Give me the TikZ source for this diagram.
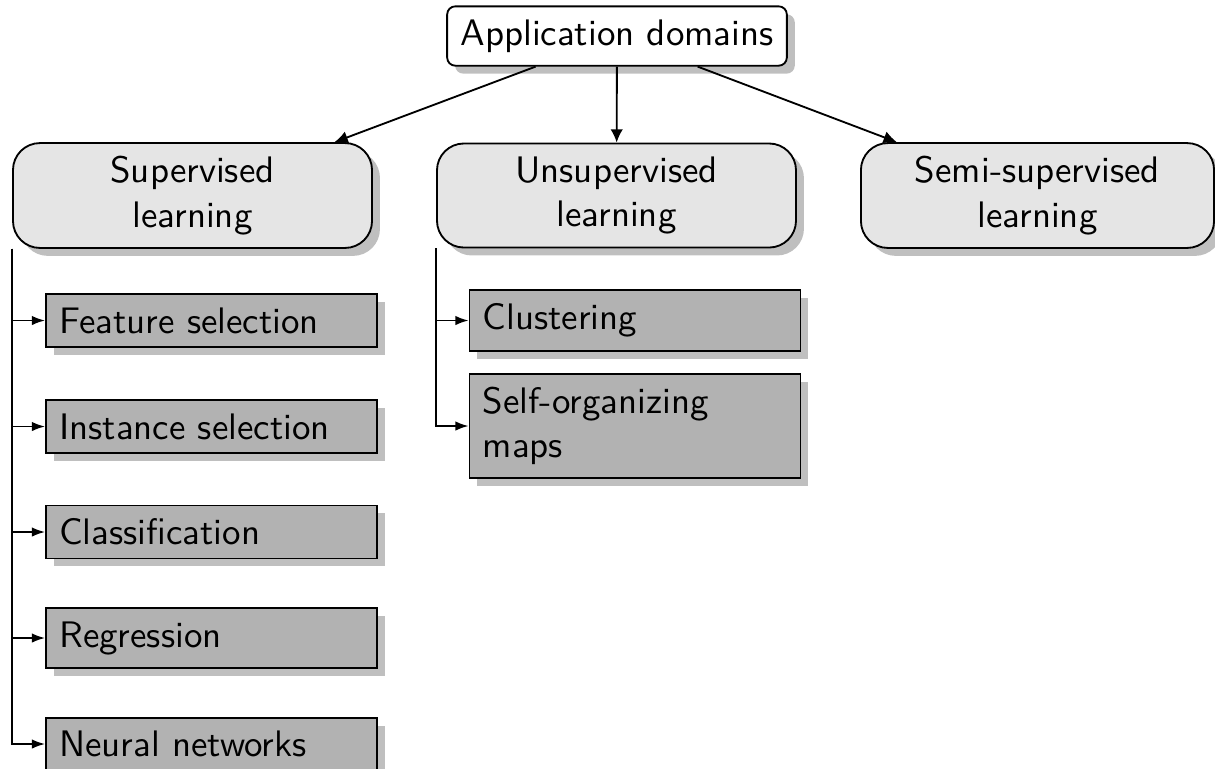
\documentclass[tikz,border=0pt]{standalone}
\usetikzlibrary{shadows,arrows.meta}
\begin{document}
\begin{tikzpicture}[x=0.271pt,y=-0.271pt,
  font=\sffamily,
  every node/.style={inner sep=3.6pt, line width=0.5pt},
  rootbox/.style={draw, fill=white, rounded corners=2.2pt, drop shadow},
  catbox/.style={draw, fill=black!10, rounded corners=7.3pt, drop shadow, align=center, text width=90.1pt},
  leafbox/.style={draw, fill=black!30, drop shadow, align=left, text width=82.5pt},
  toparrow/.style={-{Latex[length=3.6pt,width=3.4pt]}, line width=0.5pt},
  leafarrow/.style={-{Latex[length=3.6pt,width=2.6pt]}, line width=0.5pt}
]
\useasboundingbox (0,0) rectangle (1215,768);

\node[rootbox] (root) at (617,36) {Application domains};

\node[catbox] (sup) at (192.5,195.5) {Supervised\\learning};
\node[catbox] (uns) at (616.5,195.5) {Unsupervised\\learning};
\node[catbox, text width=88.5pt] (semi) at (1037.5,195.5) {Semi-supervised\\learning};

\node[leafbox] (fs) at (211.5,320.5) {Feature selection};
\node[leafbox] (is) at (211.5,426.5) {Instance selection};
\node[leafbox] (cl) at (211.5,532) {Classification};
\node[leafbox] (rg) at (211.5,638) {Regression};
\node[leafbox] (nn) at (211.5,744) {Neural networks};

\node[leafbox] (cu) at (635,320.5) {Clustering};
\node[leafbox] (so) at (635,426) {Self-organizing\\maps};

\draw[toparrow] (root) -- (sup);
\draw[toparrow] (root) -- (uns);
\draw[toparrow] (root) -- (semi);

\draw[leafarrow] (sup.south west) |- (fs.west);
\draw[leafarrow] (sup.south west) |- (is.west);
\draw[leafarrow] (sup.south west) |- (cl.west);
\draw[leafarrow] (sup.south west) |- (rg.west);
\draw[leafarrow] (sup.south west) |- (nn.west);

\draw[leafarrow] (uns.south west) |- (cu.west);
\draw[leafarrow] (uns.south west) |- (so.west);
\end{tikzpicture}
\end{document}
